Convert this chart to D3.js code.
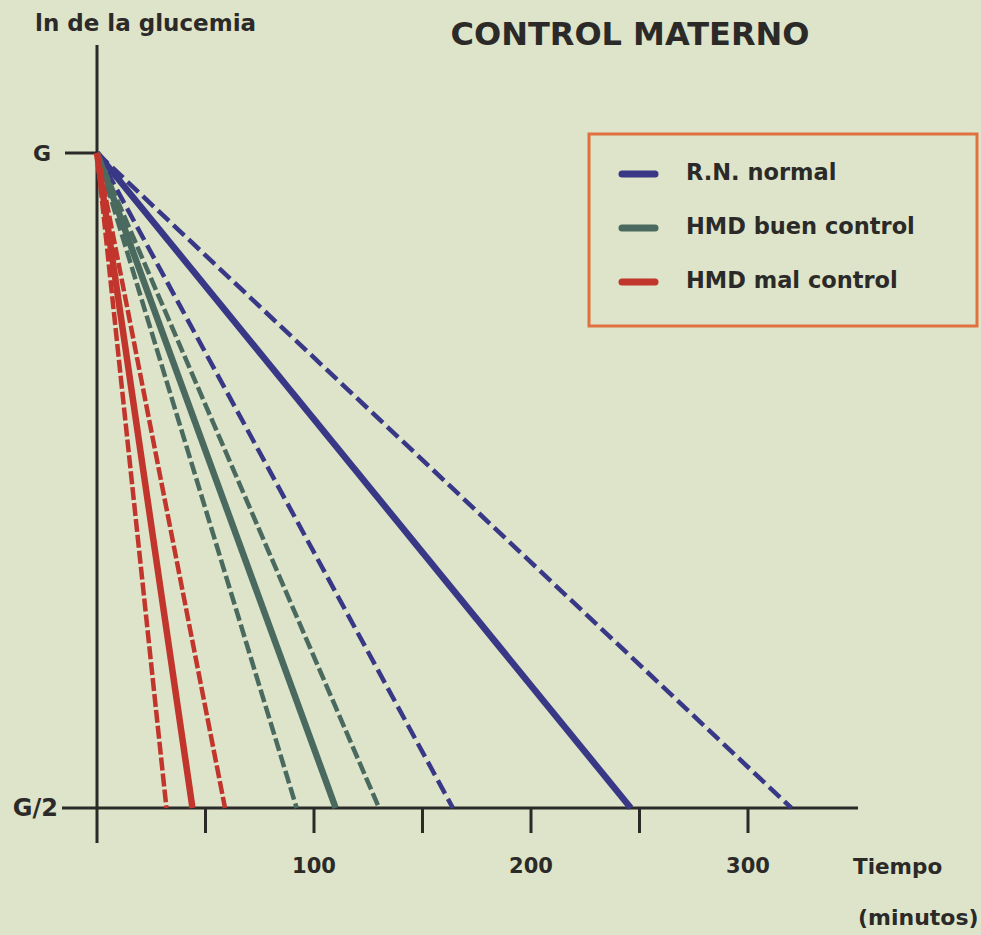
<!DOCTYPE html>
<html>
<head>
<meta charset="utf-8">
<script src="https://cdn.jsdelivr.net/npm/d3@7"></script>
<style>
  html, body { margin: 0; padding: 0; background: #dde4c9; }
  svg { display: block; }
  text { font-family: "DejaVu Sans", sans-serif; font-weight: bold; fill: #2b2a28; }
</style>
</head>
<body>
<script>
// Glucose half-life (minutes to reach G/2), mean and ± range per group
const series = ["R.N. normal", "HMD buen control", "HMD mal control"];
const seriesColors = ["#383886", "#4a6a60", "#c2352c"];
const halfTimeMean = [246, 110, 44];
const halfTimeLow = [164, 92, 32];
const halfTimeHigh = [320, 130, 59];
const xTicks = [0, 50, 100, 150, 200, 250, 300];
const xTickLabels = ["", "", "100", "", "200", "", "300"];
const yTicks = [1, 0.5];
const yTickLabels = ["G", "G/2"];

const W = 981, H = 935;
const svg = d3.select("body").append("svg").attr("width", W).attr("height", H);
svg.append("rect").attr("width", W).attr("height", H).attr("fill", "#dde4c9");

const x = d3.scaleLinear().domain([0, 300]).range([97, 748]);
// ln of glucose: straight lines on a log scale
const y = d3.scaleLog().domain([0.5, 1]).range([808, 153]);

const ink = "#2b2a28";

// Axes
svg.append("line").attr("x1", x(0)).attr("x2", x(0)).attr("y1", 45).attr("y2", 843)
  .attr("stroke", ink).attr("stroke-width", 3);
svg.append("line").attr("x1", 62).attr("x2", 858).attr("y1", y(0.5)).attr("y2", y(0.5))
  .attr("stroke", ink).attr("stroke-width", 3);
svg.append("line").attr("x1", 65).attr("x2", x(0)).attr("y1", y(1)).attr("y2", y(1))
  .attr("stroke", ink).attr("stroke-width", 3);

svg.selectAll(".xtick").data(xTicks.slice(1)).join("line")
  .attr("x1", d => x(d)).attr("x2", d => x(d))
  .attr("y1", y(0.5)).attr("y2", y(0.5) + 25)
  .attr("stroke", ink).attr("stroke-width", 3);

svg.selectAll(".xlab").data(xTicks).join("text")
  .attr("x", d => x(d)).attr("y", 873)
  .attr("text-anchor", "middle").attr("font-size", 21)
  .text((d, i) => xTickLabels[i]);

svg.selectAll(".ylab").data(yTicks).join("text")
  .attr("x", (d, i) => i === 0 ? 51 : 58).attr("y", d => y(d) + 8)
  .attr("text-anchor", "end").attr("font-size", (d, i) => i === 0 ? 22 : 24)
  .text((d, i) => yTickLabels[i]);

// Lines: mean solid, range dashed
const dashes = ["15 6", "13 4", "13 3"];
const lines = [];
series.forEach((s, i) => {
  lines.push({ t: halfTimeLow[i], i, solid: false });
  lines.push({ t: halfTimeHigh[i], i, solid: false });
  lines.push({ t: halfTimeMean[i], i, solid: true });
});
svg.selectAll(".curve").data(lines).join("line")
  .attr("x1", x(0)).attr("y1", y(1))
  .attr("x2", d => x(d.t)).attr("y2", y(0.5))
  .attr("stroke", d => seriesColors[d.i])
  .attr("stroke-width", d => d.solid ? 6.5 : 4.5)
  .attr("stroke-dasharray", d => d.solid ? null : dashes[d.i]);

// Titles
svg.append("text").attr("x", 35).attr("y", 31).attr("font-size", 23)
  .text("ln de la glucemia");
svg.append("text").attr("x", 630).attr("y", 45).attr("font-size", 32)
  .attr("text-anchor", "middle")
  .text("CONTROL MATERNO");
svg.append("text").attr("x", 853).attr("y", 874).attr("font-size", 21.5).text("Tiempo");
svg.append("text").attr("x", 858).attr("y", 925).attr("font-size", 22).text("(minutos)");

// Legend
svg.append("rect").attr("x", 589).attr("y", 134).attr("width", 388).attr("height", 192)
  .attr("fill", "none").attr("stroke", "#e0703e").attr("stroke-width", 3);
const legY = [172, 226, 280];
svg.selectAll(".legsw").data(series).join("line")
  .attr("x1", 622).attr("x2", 655)
  .attr("y1", (d, i) => legY[i] + 2).attr("y2", (d, i) => legY[i] + 2)
  .attr("stroke", (d, i) => seriesColors[i]).attr("stroke-width", 7)
  .attr("stroke-linecap", "round");
svg.selectAll(".legtx").data(series).join("text")
  .attr("x", 686).attr("y", (d, i) => legY[i] + 8).attr("font-size", 22.5)
  .text(d => d);
</script>
</body>
</html>
